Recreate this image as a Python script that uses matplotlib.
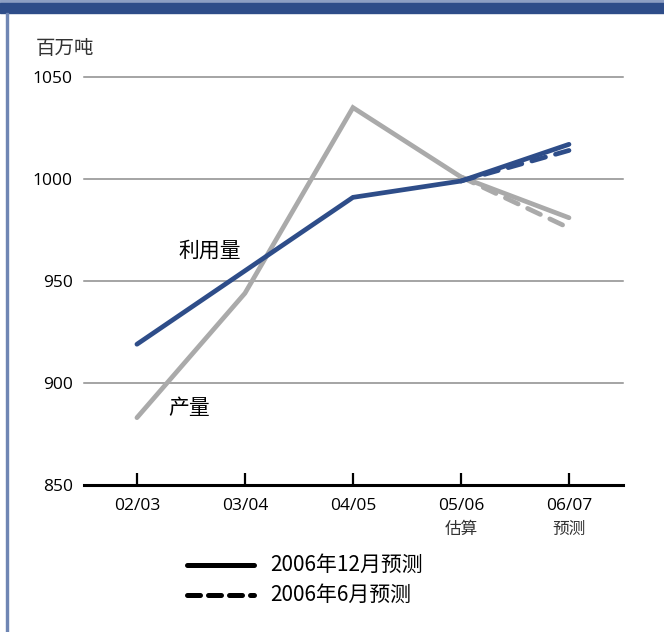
import matplotlib
matplotlib.use("Agg")
import matplotlib.pyplot as plt
from matplotlib.lines import Line2D
from matplotlib.patches import Rectangle

plt.rcParams['font.family'] = ['Noto Sans CJK SC', 'DejaVu Sans']

# Data (million tonnes)
seasons = ["02/03", "03/04", "04/05", "05/06", "06/07"]
season_notes = ["", "", "", "估算", "预测"]
production_dec = [883, 944, 1035, 1001, 981]
utilization_dec = [919, 955, 991, 999, 1017]
# June 2006 forecast differs only for the last season
june_seasons_idx = [3, 4]
production_jun = [1001, 976]
utilization_jun = [999, 1014]
y_ticks = [850, 900, 950, 1000, 1050]

W, H = 664, 632
fig = plt.figure(figsize=(W / 100, H / 100), dpi=100)

def fx(px):
    return px / W

def fy(py):
    return 1 - py / H

# Frame decorations: top band and left border
fig.patches.append(Rectangle((0, fy(3)), 1, 3 / H, transform=fig.transFigure,
                             color="#8d9fc3", zorder=0))
fig.patches.append(Rectangle((0, fy(13)), 1, 10 / H, transform=fig.transFigure,
                             color="#2e4d89", zorder=0))
fig.patches.append(Rectangle((fx(6), 0), 1.5 / W, fy(13), transform=fig.transFigure,
                             color="#6f86b4", zorder=0))

ax = fig.add_axes([fx(84), fy(485), fx(623) - fx(84), fy(77) - fy(485)])
ax.set_xlim(-0.49, 4.5)
ax.set_ylim(850, 1050)

x = list(range(len(seasons)))
blue = "#2e4d89"
grey = "#aaaaaa"
num_font = ['Open Sans', 'DejaVu Sans']

for v in y_ticks[1:]:
    ax.axhline(v, color="#8c8c8c", lw=1.1, zorder=1, clip_on=False)

ax.plot(x, production_dec, color=grey, lw=3.4, solid_capstyle="round",
        solid_joinstyle="miter", zorder=3, clip_on=False)
ax.plot(june_seasons_idx, production_jun, color=grey, lw=3.4,
        dashes=(3, 2.2), dash_capstyle="round", zorder=3, clip_on=False)
ax.plot(x, utilization_dec, color=blue, lw=3.4, solid_capstyle="round",
        solid_joinstyle="miter", zorder=4, clip_on=False)
ax.plot(june_seasons_idx, utilization_jun, color=blue, lw=3.4,
        dashes=(3, 2.2), dash_capstyle="round", zorder=4, clip_on=False)

for s in ["top", "right", "left"]:
    ax.spines[s].set_visible(False)
ax.spines["bottom"].set_linewidth(2.2)
ax.spines["bottom"].set_color("black")
ax.spines["bottom"].set_zorder(5)

ax.set_yticks(y_ticks)
ax.set_yticklabels([str(v) for v in y_ticks], fontsize=12.5, family=num_font)
ax.tick_params(axis="y", length=0, pad=8)
ax.set_xticks(x)
ax.set_xticklabels([])
ax.tick_params(axis="x", direction="in", length=9, width=1.6, color="black")

for i, (s, n) in enumerate(zip(seasons, season_notes)):
    ax.text(i, 843.5, s, ha="center", va="top", fontsize=12.5, family=num_font)
    if n:
        ax.text(i, 832.5, n, ha="center", va="top", fontsize=12,
                color="#333333", fontweight="light")

ax.text(0.96, 965, "利用量", fontsize=15, ha="right", va="center", zorder=6)
ax.text(0.48, 887.5, "产量", fontsize=15, ha="center", va="center", zorder=6)

fig.text(fx(36), fy(48), "百万吨", fontsize=14, ha="left", va="center",
         color="#333333", fontweight="light")

# Legend
leg_items = [("2006年12月预测", "-", 565), ("2006年6月预测", "--", 595)]
for label, style, py in leg_items:
    if style == "-":
        ln = Line2D([fx(187), fx(254)], [fy(py), fy(py)], transform=fig.transFigure,
                    color="black", lw=3.6, solid_capstyle="round")
    else:
        ln = Line2D([fx(187), fx(254)], [fy(py), fy(py)], transform=fig.transFigure,
                    color="black", lw=3.6, dashes=(2.6, 1.6), dash_capstyle="round")
    fig.add_artist(ln)
    fig.text(fx(270), fy(py), label, fontsize=15, ha="left", va="center")

fig.savefig("out.png", dpi=100)
